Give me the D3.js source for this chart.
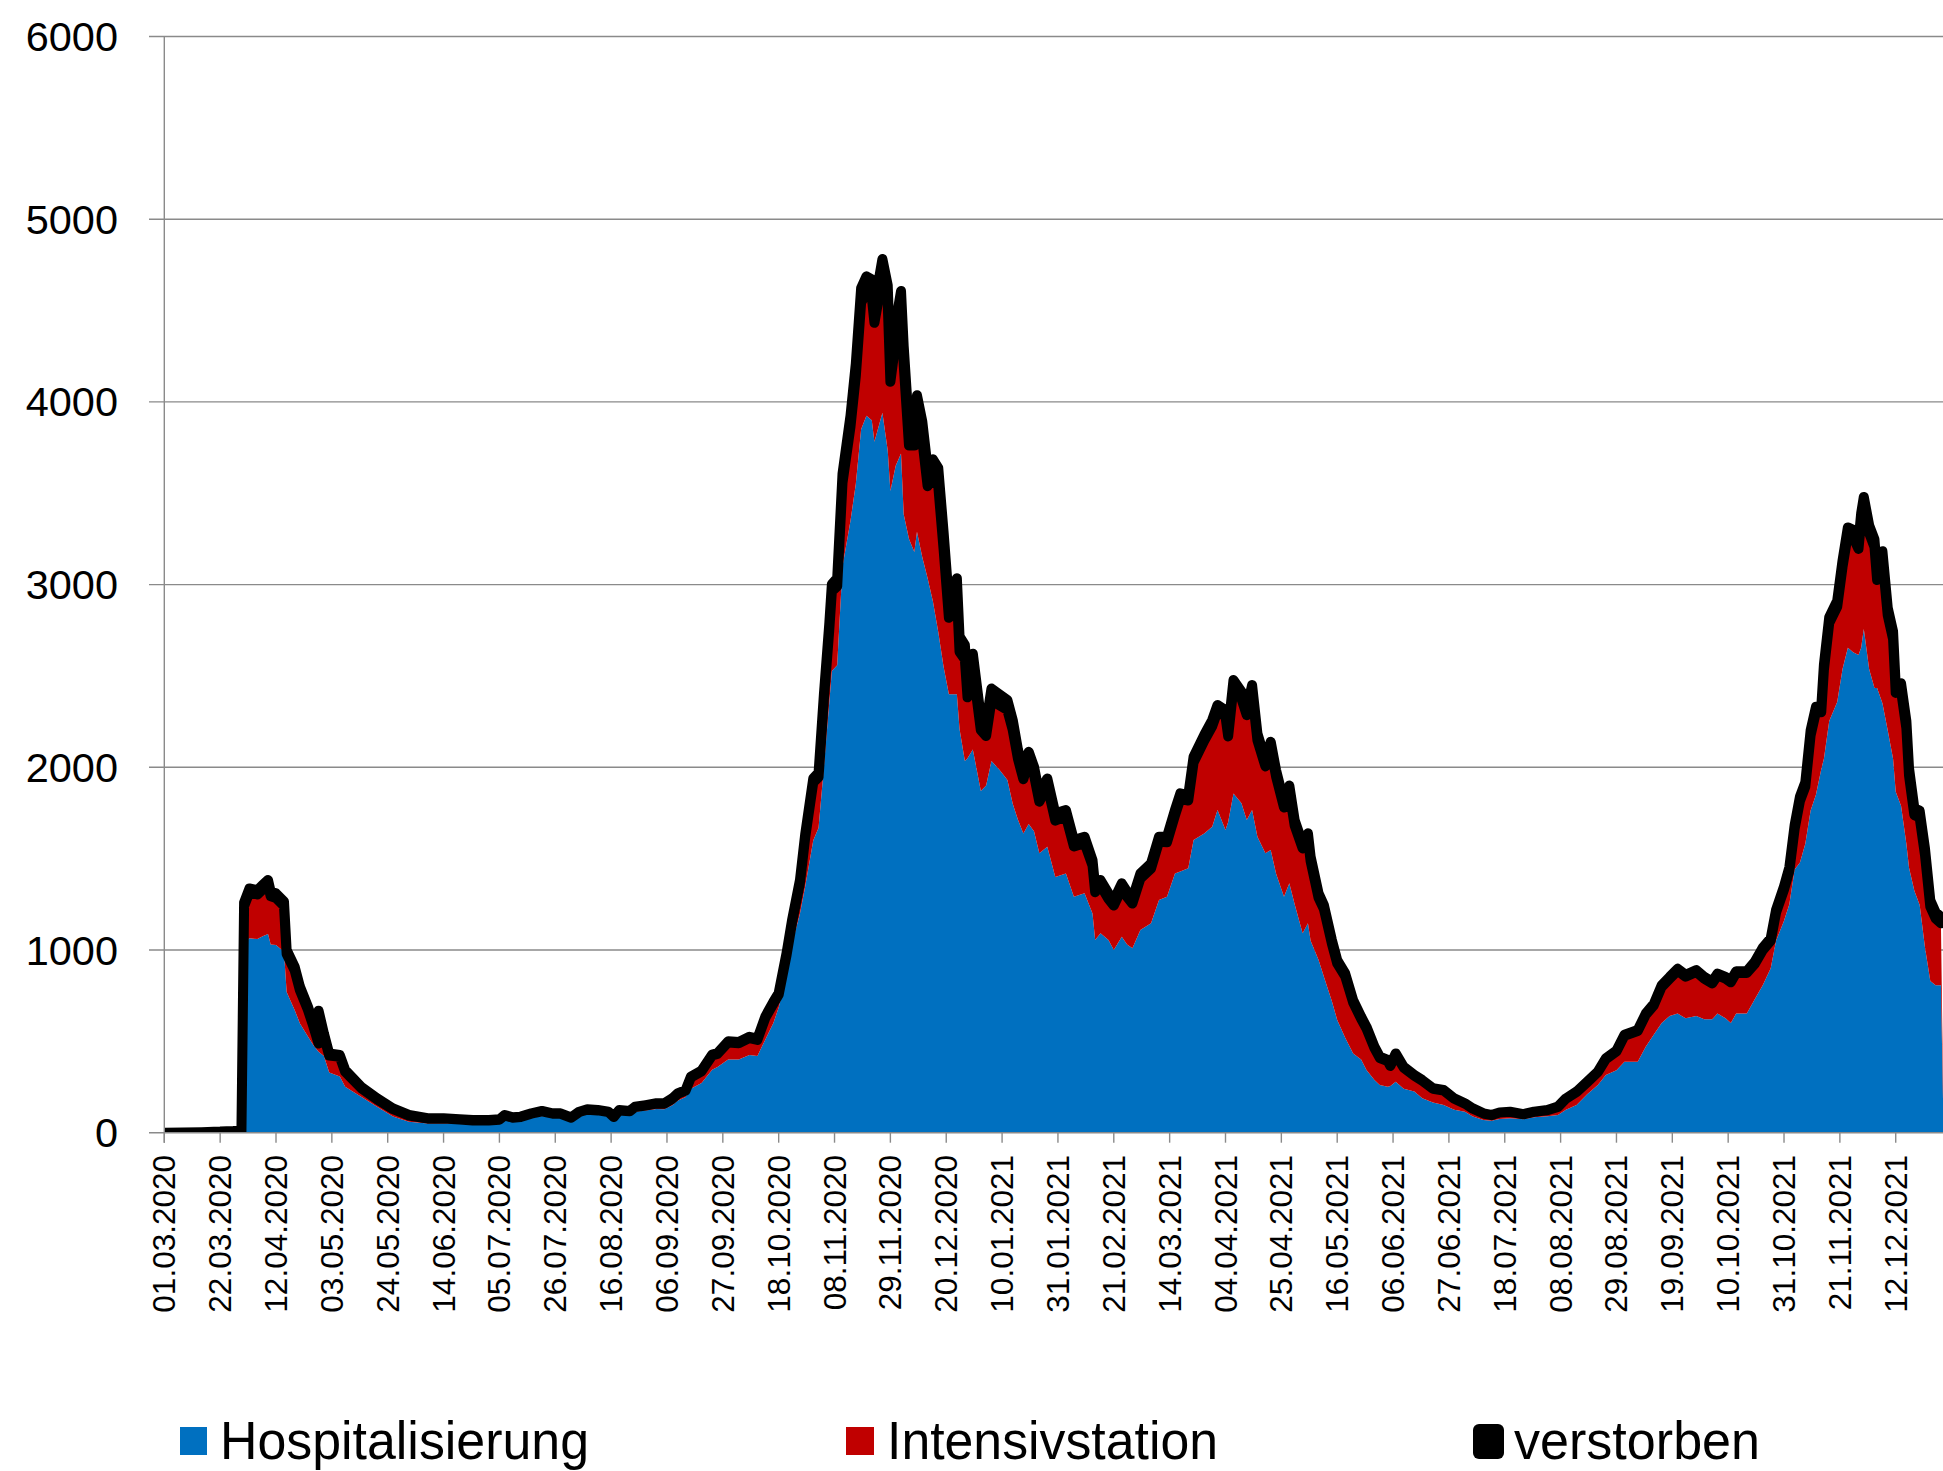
<!DOCTYPE html>
<html>
<head>
<meta charset="utf-8">
<script src="https://cdnjs.cloudflare.com/ajax/libs/d3/7.8.5/d3.min.js"></script>
<style>
body{margin:0;background:#fff;}
svg{display:block;}
</style>
</head>
<body>
<div id="chart"></div>
<script>
var dates=["01.03.2020","08.03.2020","15.03.2020","22.03.2020","27.03.2020","30.03.2020","31.03.2020",
"02.04.2020","05.04.2020","07.04.2020","09.04.2020","10.04.2020","12.04.2020","15.04.2020","16.04.2020",
"19.04.2020","21.04.2020","24.04.2020","26.04.2020","28.04.2020","30.04.2020","02.05.2020","06.05.2020",
"08.05.2020","14.05.2020","20.05.2020","26.05.2020","01.06.2020","08.06.2020","14.06.2020","20.06.2020",
"25.06.2020","01.07.2020","05.07.2020","07.07.2020","10.07.2020","13.07.2020","17.07.2020","21.07.2020",
"25.07.2020","28.07.2020","01.08.2020","04.08.2020","07.08.2020","11.08.2020","15.08.2020","17.08.2020",
"19.08.2020","23.08.2020","25.08.2020","29.08.2020","02.09.2020","05.09.2020","08.09.2020","10.09.2020",
"13.09.2020","15.09.2020","19.09.2020","23.09.2020","25.09.2020","29.09.2020","03.10.2020","07.10.2020",
"10.10.2020","13.10.2020","16.10.2020","18.10.2020","21.10.2020","23.10.2020","26.10.2020","28.10.2020",
"31.10.2020","02.11.2020","04.11.2020","06.11.2020","07.11.2020","09.11.2020","11.11.2020","14.11.2020",
"16.11.2020","18.11.2020","20.11.2020","22.11.2020","23.11.2020","26.11.2020","28.11.2020","29.11.2020",
"01.12.2020","03.12.2020","04.12.2020","06.12.2020","08.12.2020","09.12.2020","11.12.2020","13.12.2020",
"15.12.2020","17.12.2020","19.12.2020","21.12.2020","24.12.2020","25.12.2020","27.12.2020","28.12.2020",
"30.12.2020","02.01.2021","04.01.2021","06.01.2021","09.01.2021","12.01.2021","14.01.2021","16.01.2021",
"18.01.2021","20.01.2021","22.01.2021","24.01.2021","27.01.2021","30.01.2021","03.02.2021","06.02.2021",
"10.02.2021","13.02.2021","14.02.2021","16.02.2021","19.02.2021","21.02.2021","24.02.2021","26.02.2021",
"28.02.2021","03.03.2021","07.03.2021","10.03.2021","13.03.2021","16.03.2021","18.03.2021","21.03.2021",
"23.03.2021","27.03.2021","30.03.2021","01.04.2021","04.04.2021","05.04.2021","07.04.2021","10.04.2021",
"12.04.2021","14.04.2021","16.04.2021","19.04.2021","21.04.2021","23.04.2021","26.04.2021","28.04.2021",
"30.04.2021","03.05.2021","05.05.2021","06.05.2021","09.05.2021","11.05.2021","14.05.2021","16.05.2021",
"19.05.2021","22.05.2021","25.05.2021","27.05.2021","30.05.2021","01.06.2021","04.06.2021","05.06.2021",
"07.06.2021","10.06.2021","14.06.2021","17.06.2021","21.06.2021","25.06.2021","29.06.2021","03.07.2021",
"06.07.2021","10.07.2021","13.07.2021","16.07.2021","20.07.2021","25.07.2021","29.07.2021","03.08.2021",
"07.08.2021","10.08.2021","14.08.2021","18.08.2021","22.08.2021","25.08.2021","29.08.2021","01.09.2021",
"06.09.2021","09.09.2021","12.09.2021","15.09.2021","18.09.2021","21.09.2021","24.09.2021","28.09.2021",
"01.10.2021","04.10.2021","06.10.2021","09.10.2021","11.10.2021","13.10.2021","17.10.2021","20.10.2021",
"23.10.2021","26.10.2021","28.10.2021","31.10.2021","02.11.2021","04.11.2021","06.11.2021","08.11.2021",
"10.11.2021","12.11.2021","14.11.2021","15.11.2021","17.11.2021","20.11.2021","22.11.2021","24.11.2021",
"26.11.2021","28.11.2021","29.11.2021","30.11.2021","02.12.2021","04.12.2021","05.12.2021","07.12.2021",
"09.12.2021","11.12.2021","12.12.2021","14.12.2021","16.12.2021","17.12.2021","19.12.2021","21.12.2021",
"23.12.2021","25.12.2021","27.12.2021","29.12.2021","30.12.2021"];

var hosp=[0,0,0,0,0,0,1040,
1064,1060,1075,1087,1030,1027,990,770,
672,598,526,480,443,420,330,307,
252,197,142,88,60,51,51,50,
45,45,48,70,60,62,80,92,
82,82,62,90,100,98,92,65,
100,95,115,122,130,128,150,175,
195,240,272,345,360,400,400,425,
420,510,600,685,860,1030,1200,1350,
1600,1669,2000,2350,2527,2559,3099,3350,
3550,3850,3924,3900,3782,3940,3734,3512,
3650,3718,3385,3250,3178,3289,3150,3035,
2908,2740,2550,2400,2400,2209,2034,2050,
2098,1870,1900,2034,1987,1930,1800,1711,
1638,1690,1650,1530,1565,1400,1419,1292,
1310,1200,1055,1091,1055,1000,1073,1030,
1009,1109,1146,1273,1292,1419,1430,1447,
1602,1638,1675,1766,1657,1700,1857,1803,
1711,1766,1620,1529,1547,1419,1292,1365,
1250,1091,1146,1050,945,854,720,617,
520,434,400,343,288,261,252,255,
279,240,225,188,165,152,125,115,
88,70,66,75,79,73,84,90,
97,125,152,210,261,316,342,388,
388,471,536,600,639,652,626,639,
621,621,652,626,600,652,652,730,
807,900,1050,1160,1250,1440,1479,1582,
1763,1850,1990,2047,2254,2357,2538,2654,
2630,2615,2654,2757,2538,2434,2434,2350,
2202,2047,1866,1789,1582,1450,1324,1246,
1014,830,807,807,0];

var icu=[0,0,0,0,0,0,200,
251,244,256,270,264,258,251,208,
217,181,146,104,45,110,92,108,
81,47,40,41,34,26,26,22,
22,22,23,25,22,24,24,25,
22,22,20,23,26,24,21,21,
22,22,25,27,29,31,35,37,
35,63,64,78,71,94,90,93,
88,119,106,70,114,117,167,269,
317,277,370,396,436,431,458,514,
590,693,673,676,651,742,805,598,
683,789,821,511,583,647,643,504,
678,799,644,418,545,423,556,333,
449,333,271,332,353,383,404,333,
297,345,308,282,334,308,312,275,
275,262,261,262,225,243,262,261,
245,282,300,319,298,317,397,371,
424,507,549,540,621,469,583,573,
574,646,528,476,558,531,488,503,
431,465,465,436,340,370,315,310,
336,278,223,227,175,148,140,110,
149,116,87,96,75,79,61,44,
43,35,30,35,35,28,30,33,
44,61,71,66,70,87,103,143,
168,174,160,198,204,235,228,241,
222,196,209,217,223,222,222,194,
192,150,154,171,183,223,337,311,
412,453,311,486,536,521,558,621,
630,580,696,681,745,772,591,791,
629,655,541,631,632,505,414,479,
506,407,365,339,0];

var dead=[0,1,3,6,10,15,20,
22,24,25,26,25,25,24,22,
20,20,18,15,180,14,12,10,
10,8,6,4,3,2,2,2,
2,2,2,2,2,2,2,2,
2,2,2,2,2,2,2,2,
2,2,2,2,2,2,3,3,
3,4,4,5,5,6,6,7,
7,8,10,10,12,14,16,18,
22,25,30,35,40,45,50,60,
70,80,90,95,95,100,100,100,
100,100,100,100,100,100,100,100,
100,100,95,90,90,85,80,80,
75,70,70,65,60,55,55,50,
50,50,45,45,40,40,35,35,
35,30,30,30,30,30,30,28,
28,28,28,28,30,30,30,30,
32,32,35,35,35,35,38,38,
38,38,38,35,35,35,32,32,
30,28,28,25,25,22,20,18,
16,14,12,10,8,7,6,6,
6,5,4,4,3,3,2,2,
2,1,1,1,1,1,1,1,
2,2,2,3,3,4,5,5,
6,7,8,9,10,10,10,10,
10,10,10,10,10,10,10,12,
14,15,16,18,20,22,24,25,
27,28,30,30,32,34,36,38,
40,40,40,42,42,42,42,42,
42,42,40,40,40,40,38,38,
36,35,35,35,null];

var yTicks=[0,1000,2000,3000,4000,5000,6000];
var xTickLabels=["01.03.2020","22.03.2020","12.04.2020","03.05.2020","24.05.2020","14.06.2020",
"05.07.2020","26.07.2020","16.08.2020","06.09.2020","27.09.2020","18.10.2020","08.11.2020",
"29.11.2020","20.12.2020","10.01.2021","31.01.2021","21.02.2021","14.03.2021","04.04.2021",
"25.04.2021","16.05.2021","06.06.2021","27.06.2021","18.07.2021","08.08.2021","29.08.2021",
"19.09.2021","10.10.2021","31.10.2021","21.11.2021","12.12.2021"];
var seriesNames=["Hospitalisierung","Intensivstation","verstorben"];

(function draw(){
	var W=1943,H=1471;
	var pLeft=164.3, pTop=36.5, pBottom=1132.7, pRight=1943.6;
	var colors={hosp:"#0070c0",icu:"#c00000",dead:"#000000"};
	var gridColor="#8a8a8a";

	var parse=d3.utcParse("%d.%m.%Y");
	var rows=dates.map(function(s,i){
		return {date:parse(s),hosp:hosp[i],icu:icu[i],dead:dead[i]};
	});

	var svg=d3.select("#chart").append("svg")
		.attr("width",W).attr("height",H)
		.attr("font-family","'Liberation Sans', Arial, sans-serif");

	var x=d3.scaleUtc()
		.domain([parse("01.03.2020"),parse("30.12.2021")])
		.range([pLeft,pRight]);
	var y=d3.scaleLinear().domain([0,6000]).range([pBottom,pTop]);

	// gridlines + y ticks
	svg.append("g").selectAll("line").data(yTicks.slice(1)).enter().append("line")
		.attr("x1",149).attr("x2",W)
		.attr("y1",function(d){return y(d);}).attr("y2",function(d){return y(d);})
		.attr("stroke",gridColor).attr("stroke-width",1.4);

	svg.append("defs").append("clipPath").attr("id","plotClip")
		.append("rect").attr("x",pLeft).attr("y",0).attr("width",pRight-pLeft).attr("height",pBottom);

	var stack=d3.stack().keys(["hosp","icu","dead"])
		.value(function(d,k){return d[k]||0;});
	var layers=stack(rows);

	var area=d3.area()
		.x(function(d){return x(d.data.date);})
		.y0(function(d){return y(d[0]);})
		.y1(function(d){return y(d[1]);});

	var plot=svg.append("g").attr("clip-path","url(#plotClip)");
	plot.append("path").datum(layers[0]).attr("d",area).attr("fill",colors.hosp);
	plot.append("path").datum(layers[1]).attr("d",area).attr("fill",colors.icu);
	plot.append("path").datum(layers[2])
		.attr("d",area.defined(function(d){return d.data.dead!==null;}))
		.attr("fill",colors.dead)
		.attr("stroke",colors.dead).attr("stroke-width",10)
		.attr("stroke-linejoin","round");

	// axis lines
	svg.append("line").attr("x1",149).attr("x2",W).attr("y1",pBottom).attr("y2",pBottom)
		.attr("stroke",gridColor).attr("stroke-width",1.4);
	svg.append("line").attr("x1",pLeft).attr("x2",pLeft).attr("y1",pTop).attr("y2",pBottom+10)
		.attr("stroke",gridColor).attr("stroke-width",1.4);

	// y labels
	svg.append("g").selectAll("text").data(yTicks).enter().append("text")
		.attr("x",118).attr("y",function(d){return y(d);}).attr("dy","0.35em")
		.attr("text-anchor","end").attr("font-size",41.5).attr("fill","#000")
		.text(function(d){return d;});

	// x ticks + labels
	var xt=svg.append("g").selectAll("g").data(xTickLabels).enter().append("g")
		.attr("transform",function(d){return "translate("+x(parse(d))+",0)";});
	xt.append("line").attr("y1",pBottom).attr("y2",pBottom+10)
		.attr("stroke",gridColor).attr("stroke-width",1.4);
	xt.append("text")
		.attr("transform","translate(0,1155) rotate(-90)")
		.attr("dy","0.35em").attr("text-anchor","end")
		.attr("font-size",31.5).attr("fill","#000")
		.text(function(d){return d;});

	// legend
	var legend=[
		{name:seriesNames[0],color:colors.hosp,rx:180,ry:1427,rw:27,rh:28,r:0,tx:220,tl:369},
		{name:seriesNames[1],color:colors.icu,rx:846,ry:1427,rw:28,rh:28,r:0,tx:887,tl:331},
		{name:seriesNames[2],color:colors.dead,rx:1473,ry:1424,rw:31,rh:35,r:6,tx:1514,tl:246}
	];
	var lg=svg.append("g").selectAll("g").data(legend).enter().append("g");
	lg.append("rect")
		.attr("x",function(d){return d.rx;}).attr("y",function(d){return d.ry;})
		.attr("width",function(d){return d.rw;}).attr("height",function(d){return d.rh;})
		.attr("rx",function(d){return d.r;})
		.attr("fill",function(d){return d.color;});
	lg.append("text")
		.attr("x",function(d){return d.tx;}).attr("y",1459)
		.attr("font-size",53).attr("fill","#000")
		.attr("textLength",function(d){return d.tl;}).attr("lengthAdjust","spacingAndGlyphs")
		.text(function(d){return d.name;});
})();
</script>
</body>
</html>
